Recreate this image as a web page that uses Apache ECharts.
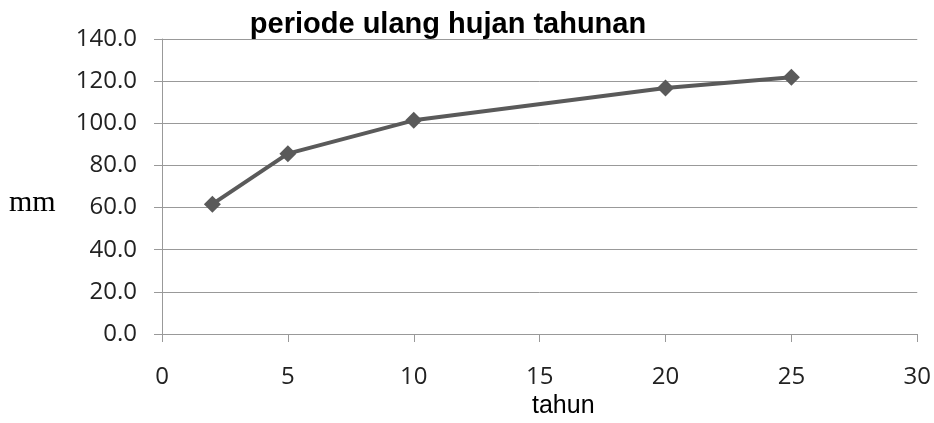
<!DOCTYPE html>
<html>
<head>
    <meta charset="utf-8">
    <script src="https://cdn.jsdelivr.net/npm/echarts@6/dist/echarts.min.js"></script>
</head>
<style>
    *{
        margin:0;
        padding:0;
    }
    body{
        background:#fff;
    }
</style>
<body>
<div id="main" style="width:934px;height:423px;"></div>
<script type="text/javascript">
    // data
    var tahun = [2, 5, 10, 20, 25];
    var hujan = [61.6, 85.6, 101.4, 116.7, 121.8];
    var xTicks = [0, 5, 10, 15, 20, 25, 30];
    var yTicks = [0, 20, 40, 60, 80, 100, 120, 140];

    var points = [];
    for (var i = 0; i < tahun.length; i++) {
        points.push([tahun[i], hujan[i]]);
    }

    var myChart = echarts.init(document.getElementById("main"));

    var option = {
        backgroundColor: '#fff',
        animation: false,
        title: {
            text: 'periode ulang hujan tahunan',
            left: 443,
            top: 5,
            textAlign: 'center',
            textStyle: {
                fontFamily: 'Liberation Sans',
                fontWeight: 'bold',
                fontSize: 29,
                color: '#000'
            }
        },
        grid: {
            left: 162,
            right: 14,
            top: 39,
            bottom: 89
        },
        xAxis: {
            type: 'value',
            min: xTicks[0],
            max: xTicks[xTicks.length - 1],
            interval: 5,
            axisLine: { show: true, lineStyle: { color: '#999', width: 1 } },
            axisTick: { show: true, length: 8, lineStyle: { color: '#999' } },
            splitLine: { show: false },
            axisLabel: {
                margin: 31,
                fontFamily: 'Open Sans',
                fontSize: 24,
                color: '#222'
            }
        },
        yAxis: {
            type: 'value',
            min: yTicks[0],
            max: yTicks[yTicks.length - 1],
            interval: 20,
            axisLine: { show: true, lineStyle: { color: '#999', width: 1 } },
            axisTick: { show: true, inside: false, length: 8, lineStyle: { color: '#999' } },
            splitLine: { show: true, lineStyle: { color: '#999', width: 1 } },
            axisLabel: {
                margin: 25,
                fontFamily: 'Open Sans',
                fontSize: 24,
                color: '#222',
                formatter: function (v) { return v.toFixed(1); }
            }
        },
        graphic: [
            {
                type: 'text',
                left: 9,
                top: 188,
                style: {
                    text: 'mm',
                    font: '30px "Liberation Serif"',
                    fill: '#000'
                }
            },
            {
                type: 'text',
                left: 532,
                top: 394,
                style: {
                    text: 'tahun',
                    font: '25px "Liberation Sans"',
                    fill: '#000'
                }
            }
        ],
        series: [{
            name: 'hujan',
            type: 'line',
            data: points,
            symbol: 'diamond',
            symbolSize: 17,
            lineStyle: { color: '#5a5a5a', width: 4 },
            itemStyle: { color: '#5a5a5a' }
        }]
    };

    myChart.setOption(option);
</script>
</body>
</html>
